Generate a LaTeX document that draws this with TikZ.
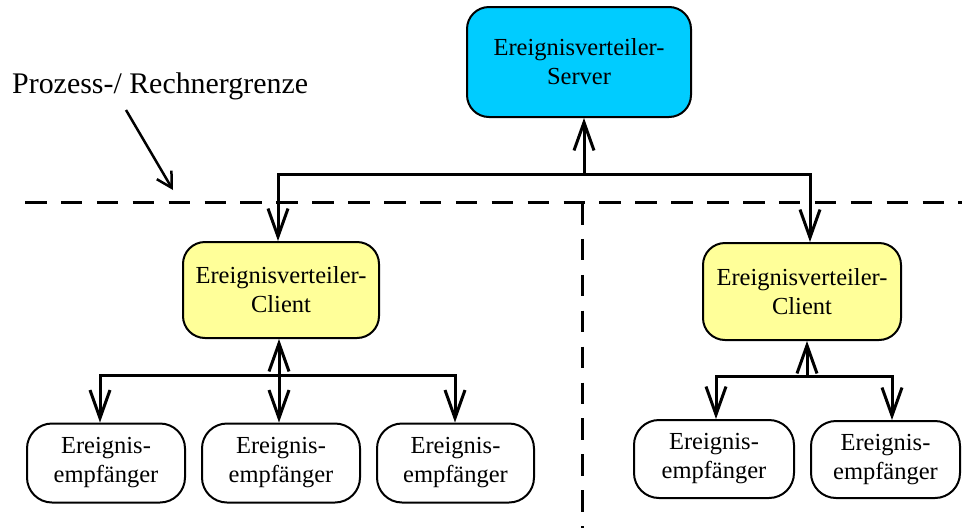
\documentclass[tikz,border=0pt]{standalone}
\usepackage{fontspec}
\setmainfont{Liberation Serif}
\usetikzlibrary{arrows.meta}
\definecolor{servercyan}{HTML}{00CCFF}
\definecolor{clientyellow}{HTML}{FFFF99}
\begin{document}
\begin{tikzpicture}[x=1pt, y=-1pt,
  box/.style={draw=black, line width=2pt, rounded corners=22pt, align=center,
    inner sep=0pt, font=\fontsize{24.5}{29}\selectfont},
  serverbox/.style={box, fill=servercyan, minimum width=224pt, minimum height=110pt},
  clientbox/.style={box, fill=clientyellow, minimum width=197pt, minimum height=97pt},
  receiverbox/.style={box, fill=white, minimum height=79pt, rounded corners=25pt},
  link/.style={line width=3pt},
  barb/.tip={Straight Barb[length=28pt, width=20pt]},
  boundary/.style={line width=3pt, dash pattern=on 21.5pt off 14.4pt},
]
\useasboundingbox (0,0) rectangle (962,528);

% process / machine boundaries
\draw[boundary] (25,202) -- (962,202);
\draw[boundary] (582,203) -- (582,528);

% nodes
\node[serverbox] (srv) at (579,62) {Ereignisverteiler-\\Server};
\node[clientbox, minimum width=196pt, minimum height=96pt] (cl1) at (281,290) {Ereignisverteiler-\\Client};
\node[clientbox, minimum width=198pt] (cl2) at (802,291.5) {Ereignisverteiler-\\Client};

\node[receiverbox, minimum width=158pt] (e1) at (106,463) {Ereignis-\\empfänger};
\node[receiverbox, minimum width=158pt] (e2) at (281,463) {Ereignis-\\empfänger};
\node[receiverbox, minimum width=157pt] (e3) at (455.5,463) {Ereignis-\\empfänger};
\node[receiverbox, minimum width=160pt, minimum height=78pt] (e4) at (714,459) {Ereignis-\\empfänger};
\node[receiverbox, minimum width=149pt, minimum height=77pt] (e5) at (885.5,459.5) {Ereignis-\\empfänger};

% label with pointer
\node[anchor=base west, inner sep=0pt, font=\fontsize{29.9}{35}\selectfont] (lbl) at (12,93) {Prozess-/ Rechnergrenze};
\coordinate (ptrA) at (126,110);
\coordinate (ptrB) at (173,190);
\draw[line width=2.5pt, -{Straight Barb[length=15pt, width=17pt]}] (ptrA) -- (ptrB);

% server bus
\coordinate (sj) at (584,174);
\coordinate (busL) at (278,174);
\coordinate (busR) at (810,174);
\draw[link, -barb] (sj) -- (sj |- srv.south);
\draw[link, barb-barb] (busL |- cl1.north) -- (busL) -- (busR) -- (busR |- cl2.north);

% left client bus
\coordinate (c1j) at (279,375);
\coordinate (b1) at (100,375);
\coordinate (b3) at (455,375);
\draw[link, barb-barb] (b1 |- e1.north) -- (b1) -- (b3) -- (b3 |- e3.north);
\draw[link, barb-barb] (c1j |- cl1.south) -- (c1j |- e2.north);

% right client bus
\coordinate (c2j) at (807,376);
\coordinate (b4) at (716,376);
\coordinate (b5) at (892,376);
\draw[link, barb-barb] (b4 |- e4.north) -- (b4) -- (b5) -- (b5 |- e5.north);
\draw[link, -barb] (c2j) -- (c2j |- cl2.south);
\end{tikzpicture}
\end{document}
